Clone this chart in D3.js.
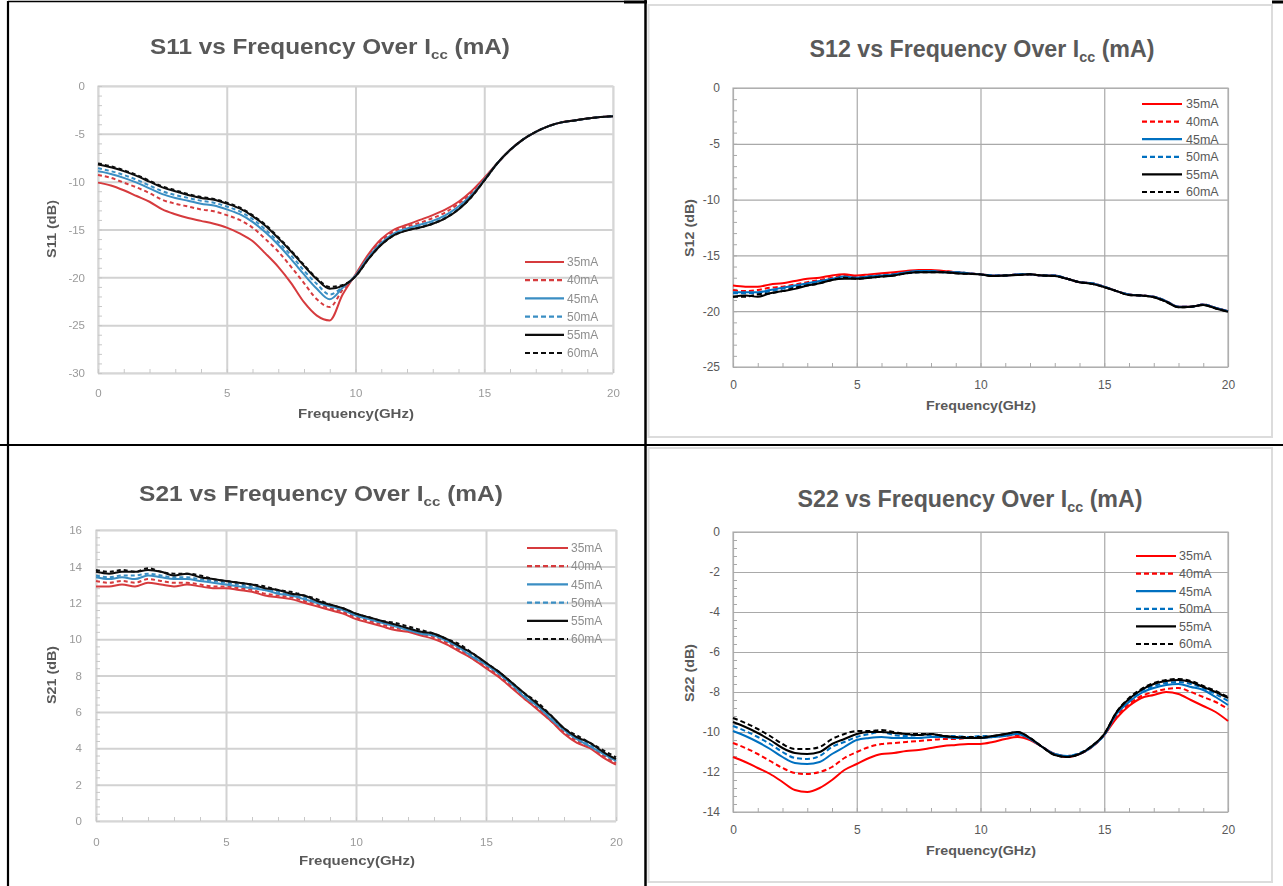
<!DOCTYPE html>
<html>
<head>
<meta charset="utf-8">
<script src="https://cdn.jsdelivr.net/npm/d3@7"></script>
<style>
body{margin:0;background:#fff;}
svg{display:block;}
</style>
</head>
<body>
<div id="chart"></div>
<script>
// frequency points (GHz)
var freq = [0,0.5,1,1.5,2,2.5,3,3.5,4,4.5,5,5.5,6,6.5,7,7.5,8,8.5,9,9.5,10,
            10.5,11,11.5,12,12.5,13,13.5,14,14.5,15,15.5,16,16.5,17,17.5,18,18.5,19,19.5,20];
var currents = ["35mA","40mA","45mA","50mA","55mA","60mA"];
var xTicks = [0,5,10,15,20];

// S11 (dB)
var s11_35 = [-10.1,-10.4,-10.9,-11.5,-12.1,-12.9,-13.4,-13.8,-14.1,-14.4,-14.8,-15.4,-16.2,-17.5,-18.9,-20.6,-22.6,-24.0,-24.5,-21.8,-19.7,
              -17.6,-16.0,-15.0,-14.5,-14.0,-13.5,-12.9,-12.1,-11.0,-9.6,-8.1,-6.7,-5.6,-4.8,-4.2,-3.8,-3.6,-3.4,-3.25,-3.15];
var s11_40 = [-9.3,-9.6,-10.1,-10.6,-11.2,-11.9,-12.3,-12.6,-12.9,-13.1,-13.5,-14.0,-14.8,-16.0,-17.3,-18.9,-20.6,-22.3,-23.1,-21.3,-19.8,
              -17.8,-16.2,-15.2,-14.7,-14.3,-13.8,-13.2,-12.3,-11.2,-9.7,-8.1,-6.7,-5.6,-4.8,-4.2,-3.8,-3.6,-3.4,-3.25,-3.15];
var s11_45 = [-8.9,-9.2,-9.6,-10.1,-10.7,-11.3,-11.7,-12.0,-12.3,-12.5,-12.9,-13.4,-14.2,-15.3,-16.6,-18.1,-19.7,-21.2,-22.3,-21.1,-19.8,
              -17.9,-16.4,-15.4,-14.9,-14.5,-14.1,-13.5,-12.6,-11.4,-9.8,-8.1,-6.7,-5.6,-4.8,-4.2,-3.8,-3.6,-3.4,-3.25,-3.15];
var s11_50 = [-8.6,-8.9,-9.3,-9.8,-10.4,-11.0,-11.4,-11.7,-12.0,-12.2,-12.6,-13.1,-13.9,-15.0,-16.3,-17.7,-19.3,-20.7,-21.8,-21.0,-19.9,
              -18.0,-16.5,-15.5,-15.0,-14.7,-14.3,-13.7,-12.8,-11.5,-9.9,-8.1,-6.7,-5.6,-4.8,-4.2,-3.8,-3.6,-3.4,-3.25,-3.15];
var s11_55 = [-8.2,-8.5,-8.9,-9.4,-10.0,-10.6,-11.0,-11.4,-11.7,-11.9,-12.3,-12.8,-13.6,-14.6,-15.9,-17.3,-18.8,-20.2,-21.2,-20.9,-19.9,
              -18.1,-16.6,-15.6,-15.1,-14.8,-14.4,-13.8,-12.9,-11.6,-9.9,-8.1,-6.7,-5.6,-4.8,-4.2,-3.8,-3.6,-3.4,-3.25,-3.15];
var s11_60 = [-8.1,-8.4,-8.8,-9.3,-9.9,-10.5,-10.9,-11.3,-11.6,-11.8,-12.2,-12.7,-13.5,-14.5,-15.8,-17.2,-18.7,-20.1,-21.0,-20.8,-19.9,
              -18.1,-16.6,-15.6,-15.1,-14.8,-14.4,-13.8,-12.9,-11.6,-9.9,-8.1,-6.7,-5.6,-4.8,-4.2,-3.8,-3.6,-3.4,-3.25,-3.15];

// S12 (dB)
var s12_35 = [-17.7,-17.8,-17.8,-17.6,-17.5,-17.3,-17.1,-17.0,-16.8,-16.7,-16.8,-16.7,-16.6,-16.5,-16.4,-16.3,-16.3,-16.4,-16.5,-16.6,-16.7,
              -16.8,-16.8,-16.7,-16.7,-16.8,-16.8,-17.1,-17.4,-17.5,-17.8,-18.2,-18.5,-18.6,-18.7,-19.1,-19.6,-19.6,-19.4,-19.7,-20.0];
var s12_40 = [-18.1,-18.2,-18.1,-17.9,-17.8,-17.6,-17.4,-17.2,-17.0,-16.8,-16.9,-16.8,-16.7,-16.6,-16.5,-16.4,-16.4,-16.4,-16.5,-16.6,-16.7,
              -16.8,-16.8,-16.7,-16.7,-16.8,-16.8,-17.1,-17.4,-17.5,-17.8,-18.2,-18.5,-18.6,-18.7,-19.1,-19.6,-19.6,-19.4,-19.7,-20.0];
var s12_45 = [-18.3,-18.3,-18.3,-18.1,-17.9,-17.7,-17.5,-17.3,-17.1,-16.9,-17.0,-16.9,-16.8,-16.7,-16.5,-16.4,-16.4,-16.5,-16.5,-16.6,-16.7,
              -16.8,-16.8,-16.7,-16.7,-16.8,-16.8,-17.1,-17.4,-17.5,-17.8,-18.2,-18.5,-18.6,-18.7,-19.1,-19.6,-19.6,-19.4,-19.7,-20.0];
var s12_50 = [-18.4,-18.4,-18.4,-18.2,-18.0,-17.8,-17.6,-17.4,-17.1,-17.0,-17.0,-16.9,-16.8,-16.7,-16.6,-16.5,-16.4,-16.5,-16.5,-16.6,-16.7,
              -16.8,-16.8,-16.7,-16.7,-16.8,-16.8,-17.1,-17.4,-17.5,-17.8,-18.2,-18.5,-18.6,-18.7,-19.1,-19.6,-19.6,-19.4,-19.7,-20.0];
var s12_55 = [-18.7,-18.6,-18.7,-18.4,-18.2,-18.0,-17.7,-17.5,-17.2,-17.1,-17.1,-17.0,-16.9,-16.8,-16.6,-16.5,-16.5,-16.5,-16.6,-16.65,-16.7,
              -16.85,-16.8,-16.75,-16.7,-16.8,-16.85,-17.1,-17.4,-17.55,-17.85,-18.2,-18.55,-18.6,-18.75,-19.15,-19.65,-19.6,-19.45,-19.75,-20.05];
var s12_60 = [-18.7,-18.7,-18.5,-18.4,-18.2,-17.9,-17.7,-17.5,-17.2,-17.0,-17.1,-17.0,-16.9,-16.8,-16.6,-16.5,-16.5,-16.5,-16.6,-16.65,-16.7,
              -16.85,-16.8,-16.75,-16.7,-16.8,-16.85,-17.1,-17.4,-17.55,-17.85,-18.2,-18.55,-18.6,-18.75,-19.15,-19.65,-19.6,-19.45,-19.75,-20.05];

// S21 (dB)
var s21_35 = [12.9,12.9,13.0,12.9,13.1,13.0,12.9,13.0,12.9,12.8,12.8,12.7,12.6,12.4,12.3,12.2,12.0,11.8,11.6,11.4,11.1,
              10.9,10.7,10.5,10.4,10.2,10.0,9.7,9.3,8.9,8.4,7.9,7.3,6.7,6.1,5.5,4.8,4.3,4.0,3.5,3.1];
var s21_40 = [13.2,13.1,13.2,13.1,13.3,13.2,13.1,13.1,13.0,12.9,12.9,12.8,12.7,12.5,12.4,12.3,12.1,11.9,11.7,11.5,11.2,
              11.0,10.8,10.6,10.5,10.3,10.1,9.8,9.4,8.9,8.5,8.0,7.4,6.7,6.2,5.5,4.9,4.4,4.1,3.6,3.2];
var s21_45 = [13.4,13.3,13.4,13.3,13.5,13.4,13.3,13.3,13.2,13.1,13.0,12.9,12.8,12.7,12.5,12.4,12.2,12.0,11.8,11.6,11.3,
              11.1,10.9,10.7,10.5,10.3,10.2,9.9,9.5,9.0,8.6,8.1,7.5,6.8,6.3,5.6,5.0,4.5,4.1,3.7,3.3];
var s21_50 = [13.5,13.4,13.5,13.5,13.6,13.5,13.4,13.4,13.3,13.2,13.1,13.0,12.9,12.7,12.6,12.4,12.3,12.0,11.8,11.6,11.3,
              11.1,10.9,10.8,10.6,10.4,10.2,9.9,9.5,9.1,8.6,8.1,7.5,6.9,6.3,5.7,5.0,4.5,4.2,3.7,3.3];
var s21_55 = [13.7,13.6,13.7,13.7,13.8,13.7,13.5,13.6,13.4,13.3,13.2,13.1,13.0,12.8,12.7,12.5,12.4,12.1,11.9,11.7,11.4,
              11.2,11.0,10.8,10.6,10.4,10.3,10.0,9.6,9.2,8.7,8.2,7.6,7.0,6.4,5.8,5.1,4.6,4.3,3.8,3.4];
var s21_60 = [13.8,13.7,13.8,13.7,13.9,13.7,13.6,13.6,13.5,13.3,13.2,13.1,13.0,12.9,12.7,12.6,12.4,12.2,11.9,11.7,11.4,
              11.2,11.0,10.9,10.7,10.5,10.3,10.0,9.7,9.2,8.7,8.2,7.6,7.0,6.5,5.8,5.1,4.7,4.3,3.9,3.5];

// S22 (dB)
var s22_35 = [-11.25,-11.5,-11.8,-12.1,-12.5,-12.9,-13.0,-12.8,-12.4,-11.9,-11.6,-11.3,-11.1,-11.05,-10.95,-10.9,-10.8,-10.7,-10.65,-10.6,-10.6,
              -10.5,-10.35,-10.25,-10.4,-10.75,-11.1,-11.25,-11.1,-10.75,-10.15,-9.3,-8.7,-8.3,-8.15,-8.0,-8.1,-8.4,-8.7,-9.0,-9.45];
var s22_40 = [-10.55,-10.8,-11.1,-11.45,-11.8,-12.05,-12.1,-12.0,-11.75,-11.3,-11.0,-10.75,-10.6,-10.55,-10.5,-10.45,-10.4,-10.35,-10.35,-10.3,-10.3,
              -10.25,-10.2,-10.15,-10.35,-10.75,-11.1,-11.2,-11.1,-10.75,-10.15,-9.2,-8.6,-8.2,-8.0,-7.85,-7.8,-8.0,-8.25,-8.5,-8.85];
var s22_45 = [-9.95,-10.2,-10.5,-10.85,-11.25,-11.55,-11.6,-11.5,-11.1,-10.75,-10.4,-10.3,-10.25,-10.3,-10.3,-10.3,-10.25,-10.25,-10.3,-10.3,-10.3,
              -10.25,-10.2,-10.1,-10.35,-10.75,-11.1,-11.2,-11.1,-10.75,-10.15,-9.1,-8.5,-8.05,-7.8,-7.65,-7.6,-7.75,-7.9,-8.25,-8.65];
var s22_50 = [-9.7,-9.95,-10.25,-10.6,-11.0,-11.3,-11.35,-11.2,-10.75,-10.5,-10.25,-10.1,-10.0,-10.15,-10.2,-10.15,-10.15,-10.2,-10.2,-10.25,-10.2,
              -10.2,-10.15,-10.05,-10.3,-10.75,-11.1,-11.2,-11.05,-10.7,-10.15,-9.05,-8.45,-7.95,-7.7,-7.55,-7.5,-7.6,-7.8,-8.1,-8.45];
var s22_55 = [-9.5,-9.75,-10.05,-10.4,-10.8,-11.05,-11.1,-11.0,-10.6,-10.35,-10.1,-10.0,-10.0,-10.05,-10.1,-10.15,-10.1,-10.2,-10.25,-10.3,-10.3,
              -10.2,-10.1,-10.0,-10.3,-10.75,-11.15,-11.25,-11.1,-10.7,-10.1,-9.0,-8.35,-7.9,-7.6,-7.45,-7.4,-7.5,-7.75,-8.0,-8.3];
var s22_60 = [-9.3,-9.55,-9.85,-10.2,-10.6,-10.85,-10.85,-10.75,-10.35,-10.1,-9.95,-9.95,-9.9,-10.0,-10.1,-10.1,-10.1,-10.2,-10.25,-10.25,-10.25,
              -10.2,-10.1,-10.0,-10.3,-10.75,-11.15,-11.25,-11.1,-10.7,-10.1,-9.0,-8.3,-7.85,-7.55,-7.4,-7.35,-7.45,-7.7,-7.95,-8.25];

var s11Ticks = [-30,-25,-20,-15,-10,-5,0];
var s12Ticks = [-25,-20,-15,-10,-5,0];
var s21Ticks = [0,2,4,6,8,10,12,14,16];
var s22Ticks = [-14,-12,-10,-8,-6,-4,-2,0];

var width = 1283, height = 886;
var svg = d3.select("#chart").append("svg")
    .attr("width",width)
    .attr("height",height)
    .style("font-family","'Liberation Sans', Arial, sans-serif");

svg.append("defs").append("filter")
    .attr("id","soft")
    .attr("x","-2%").attr("y","-2%").attr("width","104%").attr("height","104%")
    .append("feGaussianBlur")
    .attr("stdDeviation",0.6);

var styles = {
    soft: {colors:["#d63a3e","#d63a3e","#3a8ec3","#3a8ec3","#111","#111"], grid:"#d2d2d2", gridW:2, frame:"#d9d9d9",
           tickText:"#9a9a9a", legendText:"#8e8e8e", tickFs:11.5, minor:"#c8c8c8", dash:"4,3"},
    crisp: {colors:["#ff0000","#ff0000","#0070c0","#0070c0","#000","#000"], grid:"#a9a9a9", gridW:1.2, frame:"#b4b4b4",
           tickText:"#595959", legendText:"#595959", tickFs:12, minor:"#a9a9a9", dash:"5,3"}
};

var panels = [
    {style:"soft", series:[s11_35,s11_40,s11_45,s11_50,s11_55,s11_60], label:"S11", yTicks:s11Ticks, yMinor:1,
     plot:{x0:98,x1:613,y0:86,y1:373}, xLabelY:393, yLabelRight:85,
     title:{cx:330,base:54,size:22,len:360}, xTitle:{cx:356,cy:413,len:116}, yTitle:{cx:51,cy:229,len:58},
     legend:{x0:525,x1:564,tx:567,y0:262,dy:18.2}},
    {style:"crisp", series:[s12_35,s12_40,s12_45,s12_50,s12_55,s12_60], label:"S12", yTicks:s12Ticks, yMinor:1,
     plot:{x0:733,x1:1228,y0:88,y1:367}, xLabelY:385, yLabelRight:720,
     title:{cx:982,base:57,size:24,len:345}, xTitle:{cx:981,cy:405,len:110}, yTitle:{cx:689,cy:228,len:58},
     legend:{x0:1142,x1:1182,tx:1186,y0:104,dy:17.6}},
    {style:"soft", series:[s21_35,s21_40,s21_45,s21_50,s21_55,s21_60], label:"S21", yTicks:s21Ticks, yMinor:0.4,
     plot:{x0:96,x1:616,y0:530,y1:821}, xLabelY:842, yLabelRight:82,
     title:{cx:321,base:501,size:22,len:364}, xTitle:{cx:357,cy:860,len:116}, yTitle:{cx:51,cy:675,len:58},
     legend:{x0:527,x1:568,tx:571,y0:548,dy:18.2}},
    {style:"crisp", series:[s22_35,s22_40,s22_45,s22_50,s22_55,s22_60], label:"S22", yTicks:s22Ticks, yMinor:0.4,
     plot:{x0:733,x1:1228,y0:532,y1:812}, xLabelY:830, yLabelRight:720,
     title:{cx:970,base:507,size:24,len:345}, xTitle:{cx:981,cy:850,len:110}, yTitle:{cx:689,cy:673,len:58},
     legend:{x0:1136,x1:1176,tx:1179,y0:556,dy:17.6}}
];

// plain hyphen minus, as in the original
function plain(d){ return String(d); }

// squeeze a centred text to a given width
function fitWidth(t, cx, cy, len, rot){
    var w = t.node().getBBox().width;
    var k = len / w;
    t.attr("transform","translate("+cx+","+cy+")"+(rot?"rotate(-90)":"")+"scale("+k+",1)");
}

function drawPanel(p){
    var st = styles[p.style];
    var g = svg.append("g");
    if(p.style==="soft") g.attr("filter","url(#soft)");
    var pl = p.plot;
    var w = pl.x1-pl.x0, h = pl.y1-pl.y0;
    var yDom = [p.yTicks[0], p.yTicks[p.yTicks.length-1]];
    var x = d3.scaleLinear().domain([0,20]).range([pl.x0,pl.x1]);
    var y = d3.scaleLinear().domain(yDom).range([pl.y1,pl.y0]);

    // grid
    var gx = g.append("g").attr("transform","translate(0,"+pl.y1+")")
        .call(d3.axisBottom(x).tickValues(xTicks).tickSize(-h).tickFormat(""));
    var gy = g.append("g").attr("transform","translate("+pl.x0+",0)")
        .call(d3.axisLeft(y).tickValues(p.yTicks).tickSize(-w).tickFormat(""));
    [gx,gy].forEach(function(a){
        a.select(".domain").remove();
        a.selectAll("line").attr("stroke",st.grid).attr("stroke-width",st.gridW);
    });
    g.append("rect").attr("x",pl.x0).attr("y",pl.y0).attr("width",w).attr("height",h)
        .attr("fill","none").attr("stroke",st.frame).attr("stroke-width",1.2);

    // minor ticks
    var mx = g.append("g").attr("transform","translate(0,"+pl.y1+")")
        .call(d3.axisBottom(x).tickValues(d3.range(0,20.01,1)).tickSize(-4).tickFormat(""));
    var my = g.append("g").attr("transform","translate("+pl.x0+",0)")
        .call(d3.axisLeft(y).tickValues(d3.range(yDom[0],yDom[1]+0.001,p.yMinor)).tickSize(-4).tickFormat(""));
    [mx,my].forEach(function(a){
        a.select(".domain").remove();
        a.selectAll("line").attr("stroke",st.minor).attr("stroke-width",1);
    });

    // tick labels
    var lx = g.append("g").attr("transform","translate(0,"+pl.y1+")")
        .call(d3.axisBottom(x).tickValues(xTicks).tickSize(0).tickFormat(plain));
    lx.select(".domain").remove();
    lx.selectAll("text").attr("y",p.xLabelY-pl.y1).attr("dy","0.35em");
    var ly = g.append("g").attr("transform","translate("+pl.x0+",0)")
        .call(d3.axisLeft(y).tickValues(p.yTicks).tickSize(0).tickPadding(pl.x0-p.yLabelRight).tickFormat(plain));
    ly.select(".domain").remove();
    [lx,ly].forEach(function(a){
        a.attr("font-family",null).attr("font-size",st.tickFs);
        a.selectAll("text").attr("fill",st.tickText);
    });

    // series
    var line = d3.line()
        .x(function(d,i){return x(freq[i]);})
        .y(function(d){return y(d);})
        .curve(d3.curveMonotoneX);
    g.append("g").selectAll("path")
        .data(p.series)
        .enter()
        .append("path")
        .attr("d",line)
        .attr("fill","none")
        .attr("stroke",function(d,i){return st.colors[i];})
        .attr("stroke-width",2)
        .attr("stroke-dasharray",function(d,i){return i%2?st.dash:null;});

    // legend
    var lg = g.append("g").selectAll("g")
        .data(currents)
        .enter()
        .append("g")
        .attr("transform",function(d,i){return "translate(0,"+(p.legend.y0+i*p.legend.dy)+")";});
    lg.append("line")
        .attr("x1",p.legend.x0).attr("x2",p.legend.x1)
        .attr("stroke",function(d,i){return st.colors[i];})
        .attr("stroke-width",2.2)
        .attr("stroke-dasharray",function(d,i){return i%2?"5,3":null;});
    lg.append("text")
        .attr("x",p.legend.tx).attr("dy","0.35em")
        .attr("font-size",st.tickFs+0.5)
        .attr("fill",st.legendText)
        .text(function(d){return d;});

    // titles
    var t = g.append("text")
        .attr("text-anchor","middle")
        .attr("font-size",p.title.size)
        .attr("font-weight","bold")
        .attr("fill","#595959");
    t.append("tspan").text(p.label+" vs Frequency Over I");
    t.append("tspan").attr("font-size",p.title.size*0.62).attr("dy",p.title.size*0.22).text("cc");
    t.append("tspan").attr("dy",-p.title.size*0.22).text(" (mA)");
    fitWidth(t,p.title.cx,p.title.base,p.title.len,false);

    var xt = g.append("text")
        .attr("text-anchor","middle").attr("dy","0.35em")
        .attr("font-size",13.5).attr("font-weight","bold").attr("fill","#595959")
        .text("Frequency(GHz)");
    fitWidth(xt,p.xTitle.cx,p.xTitle.cy,p.xTitle.len,false);
    var yt = g.append("text")
        .attr("text-anchor","middle").attr("dy","0.35em")
        .attr("font-size",13.5).attr("font-weight","bold").attr("fill","#595959")
        .text(p.label+" (dB)");
    fitWidth(yt,p.yTitle.cx,p.yTitle.cy,p.yTitle.len,true);
}

panels.forEach(drawPanel);

// page frame lines
var fr = svg.append("g");
fr.append("rect").attr("x",648.5).attr("y",5).attr("width",623.5).attr("height",432)
    .attr("fill","none").attr("stroke","#dcdcdc").attr("stroke-width",2);
fr.append("rect").attr("x",648.5).attr("y",448).attr("width",623.5).attr("height",434)
    .attr("fill","none").attr("stroke","#dcdcdc").attr("stroke-width",2);
var blk = [
    [8,1,8,886,2.2],
    [8,1.5,624,1.5,1.5],
    [624,2,647,2,3],
    [645.5,0,645.5,886,2.5],
    [0,445,1283,445,2],
    [1272,2,1283,2,3]
];
fr.selectAll("line.b").data(blk).enter().append("line")
    .attr("x1",function(d){return d[0];}).attr("y1",function(d){return d[1];})
    .attr("x2",function(d){return d[2];}).attr("y2",function(d){return d[3];})
    .attr("stroke","#000").attr("stroke-width",function(d){return d[4];});
</script>
</body>
</html>
